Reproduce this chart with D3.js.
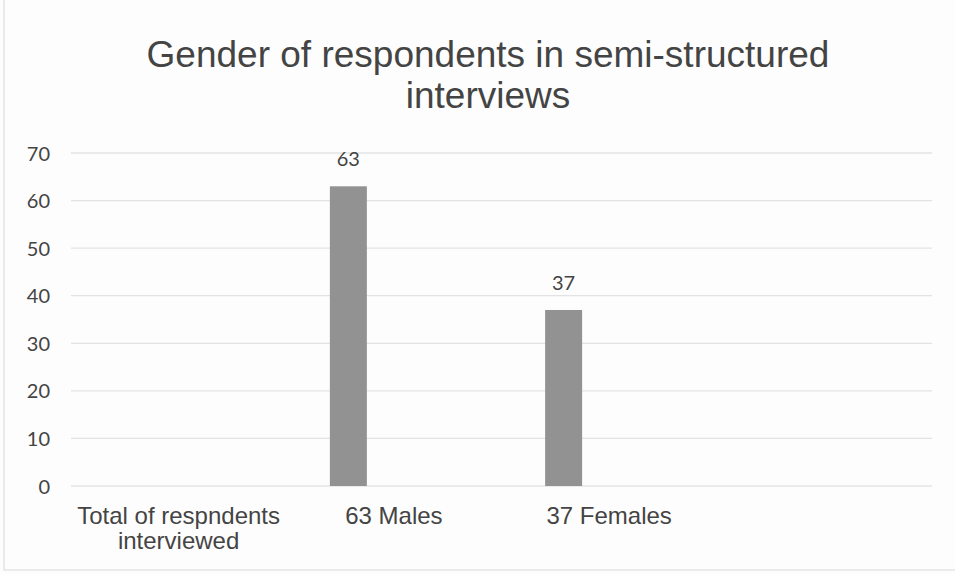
<!DOCTYPE html>
<html>
<head>
<meta charset="utf-8">
<script src="https://cdn.jsdelivr.net/npm/d3@7"></script>
<style>
  html, body { margin: 0; padding: 0; background: #fdfdfd; }
  svg { display: block; }
</style>
</head>
<body>
<svg id="chart" width="955" height="574"></svg>
<script>
// Chart data
const titleLines = ["Gender of respondents in semi-structured", "interviews"];
const categories = ["Total of respndents interviewed", "63 Males", "37 Females", ""];
const seriesNames = ["Series1", "Series2", "Series3"];
const series1 = [null, 63, 37, null];
const yTicks = [0, 10, 20, 30, 40, 50, 60, 70];

const W = 955, H = 574;
const margin = { top: 153, right: 23, bottom: 88, left: 71 };

const svg = d3.select("#chart");

// outer chart frame
svg.append("rect")
  .attr("x", 4).attr("y", -2).attr("width", W + 4).attr("height", 572)
  .attr("fill", "#fdfdfd").attr("stroke", "#e4e4e4").attr("stroke-width", 1.5);

const x = d3.scaleBand()
  .domain(categories.map((d, i) => i))
  .range([margin.left, W - margin.right])
  .paddingInner(0).paddingOuter(0);

// series slots inside each category
const xSub = d3.scaleBand()
  .domain(seriesNames)
  .range([-64, 64])
  .paddingInner(0.187).paddingOuter(0);

const y = d3.scaleLinear()
  .domain([0, 70])
  .range([H - margin.bottom, margin.top]);

// gridlines
svg.append("g")
  .selectAll("line")
  .data(yTicks)
  .join("line")
  .attr("x1", margin.left).attr("x2", W - margin.right)
  .attr("y1", d => y(d)).attr("y2", d => y(d))
  .attr("stroke", "#e3e3e3").attr("stroke-width", 1.3);

// y axis labels
const yAxis = d3.axisLeft(y).tickValues(yTicks).tickSize(0).tickPadding(0);
const gy = svg.append("g").attr("transform", `translate(50,0)`).call(yAxis);
gy.select(".domain").remove();
gy.selectAll("text")
  .attr("font-family", "Lato, 'Open Sans', sans-serif")
  .attr("font-size", 20)
  .attr("fill", "#444")
  .attr("dy", "0.35em");

// bars
const bars = categories.map((c, i) => ({ i, v: series1[i] })).filter(d => d.v != null);
const barLeft = d => x(d.i) + x.bandwidth() / 2 + xSub("Series1");

svg.append("g")
  .selectAll("rect")
  .data(bars)
  .join("rect")
  .attr("x", d => barLeft(d))
  .attr("y", d => y(d.v))
  .attr("width", xSub.bandwidth())
  .attr("height", d => y(0) - y(d.v))
  .attr("fill", "#929292");

// value labels
svg.append("g")
  .selectAll("text")
  .data(bars)
  .join("text")
  .attr("x", d => barLeft(d) + xSub.bandwidth() / 2)
  .attr("y", d => y(d.v) - 20)
  .attr("text-anchor", "middle")
  .attr("font-family", "Lato, 'Open Sans', sans-serif")
  .attr("font-size", 20)
  .attr("fill", "#444")
  .text(d => d.v);

// category labels (wrapped)
const wrapLines = {
  0: ["Total of respndents", "interviewed"]
};
const catG = svg.append("g");
categories.forEach((c, i) => {
  const lines = wrapLines[i] || [c];
  const t = catG.append("text")
    .attr("x", x(i) + x.bandwidth() / 2)
    .attr("y", 524)
    .attr("text-anchor", "middle")
    .attr("font-family", "'Liberation Sans', Arial, sans-serif")
    .attr("font-size", 24)
    .attr("fill", "#444");
  lines.forEach((l, k) => {
    t.append("tspan")
      .attr("x", x(i) + x.bandwidth() / 2)
      .attr("dy", k === 0 ? 0 : 25)
      .text(l);
  });
});

// title
const title = svg.append("text")
  .attr("x", 488)
  .attr("y", 67)
  .attr("text-anchor", "middle")
  .attr("font-family", "'Liberation Sans', Arial, sans-serif")
  .attr("font-size", 37)
  .attr("fill", "#444");
titleLines.forEach((l, k) => {
  title.append("tspan").attr("x", 488).attr("dy", k === 0 ? 0 + "px" : "41px").text(l);
});
</script>
</body>
</html>
